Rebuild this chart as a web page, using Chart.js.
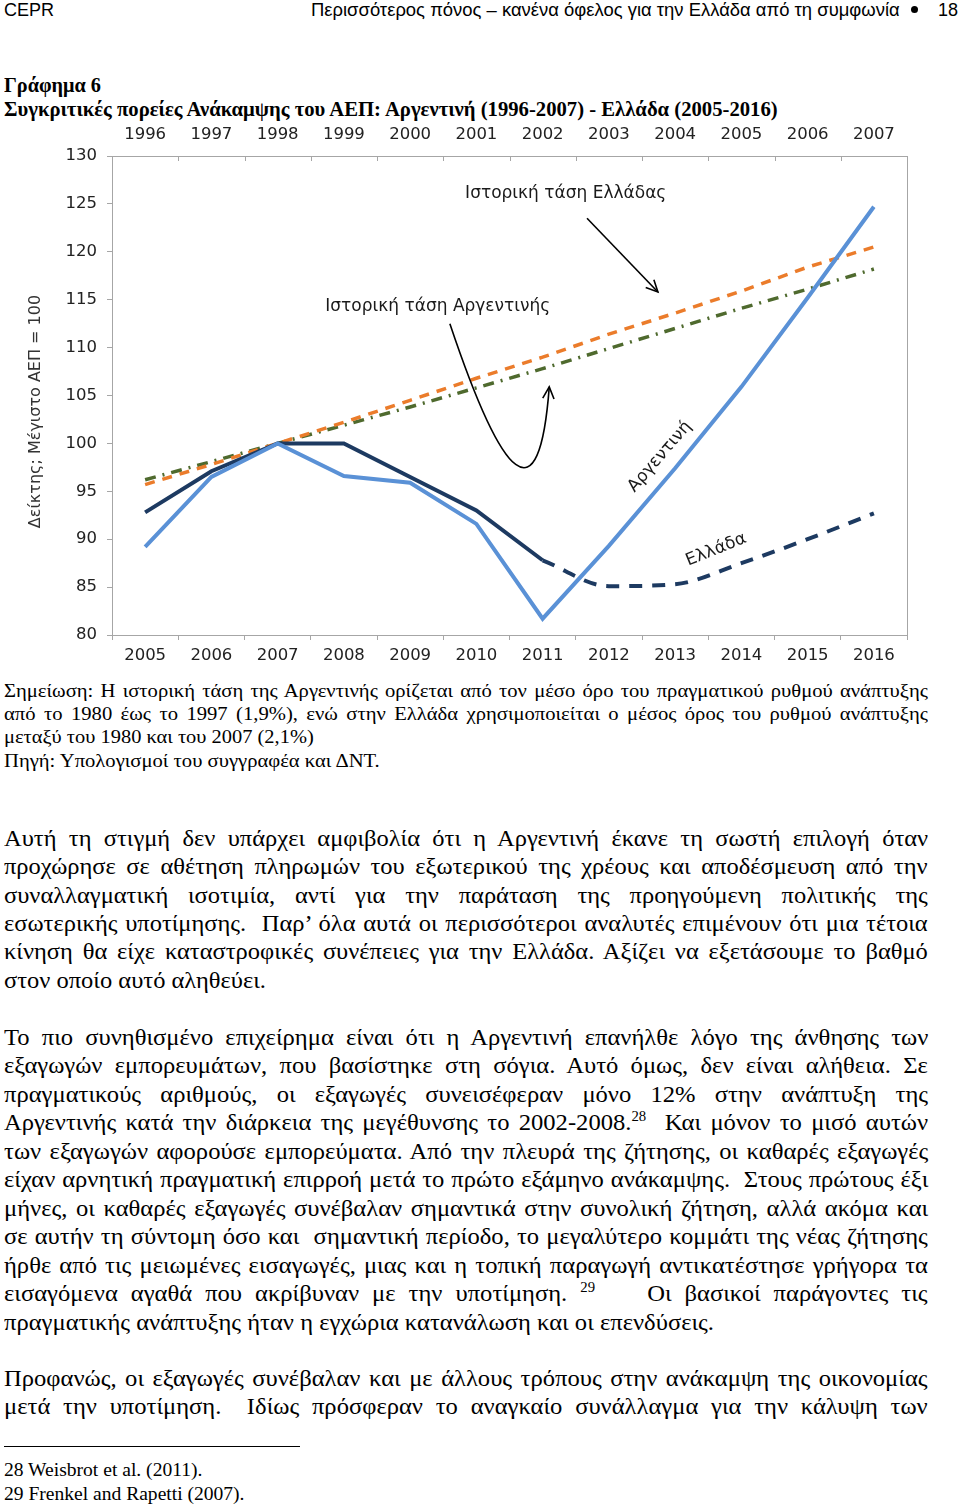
<!DOCTYPE html>
<html lang="el">
<head>
<meta charset="utf-8">
<title>Γράφημα 6</title>
<script src="https://cdn.jsdelivr.net/npm/chart.js@4.4.1/dist/chart.umd.min.js"></script>
<style>
  html, body { margin: 0; padding: 0; background: #fff; }
  body { width: 960px; height: 1509px; position: relative; overflow: hidden; color: #000; }
  .ln { position: absolute; left: 4px; white-space: pre; display: inline-block; transform-origin: 0 0; }
  .hdr { font-family: 'Liberation Sans Narrow', 'Liberation Sans', Arial, sans-serif; font-size: 18px; line-height: 20px; }
  .ttl { font-family: 'Liberation Serif', 'Times New Roman', serif; font-weight: bold; font-size: 20px; line-height: 24px; }
  .note .ln, .fn .ln { font-family: 'Liberation Serif', 'Times New Roman', serif; font-size: 18px; line-height: 23px; }
  .txt .ln { font-family: 'Liberation Serif', 'Times New Roman', serif; font-size: 23px; line-height: 28px; }
  sup { font-size: 0.6em; line-height: 0; vertical-align: 0.62em; }
  #bullet { position: absolute; left: 911px; top: 6px; width: 7px; height: 7px; border-radius: 50%; background: #000; }
  #rule { position: absolute; left: 4px; top: 1446px; width: 296px; height: 1px; background: #000; }
  #chartBox { position: absolute; left: 0; top: 118px; width: 960px; height: 550px; }
</style>
</head>
<body>

<div class="blk hdr">
  <span class="ln" style="top:0px" data-w="50">CEPR</span>
  <span class="ln" style="left:311px;top:0px" data-w="589">Περισσότερος πόνος – κανένα όφελος για την Ελλάδα από τη συμφωνία</span>
  <span class="ln" style="left:938px;top:0px" data-w="20">18</span>
</div>
<div id="bullet"></div>

<div class="blk ttl">
  <span class="ln" style="top:73px" data-w="97">Γράφημα 6</span>
  <span class="ln" style="top:97px" data-w="774">Συγκριτικές πορείες Ανάκαμψης του ΑΕΠ: Αργεντινή (1996-2007) - Ελλάδα (2005-2016)</span>
</div>

<div id="chartBox"><canvas id="recoveryChart"></canvas></div>

<div class="blk note">
  <span class="ln j" style="top:680px">Σημείωση: Η ιστορική τάση της Αργεντινής ορίζεται από τον μέσο όρο του πραγματικού ρυθμού ανάπτυξης</span>
  <span class="ln j" style="top:703px">από το 1980 έως το 1997 (1,9%), ενώ στην Ελλάδα χρησιμοποιείται ο μέσος όρος του ρυθμού ανάπτυξης</span>
  <span class="ln" style="top:726px" data-w="310">μεταξύ του 1980 και του 2007 (2,1%)</span>
  <span class="ln" style="top:750px" data-w="376">Πηγή: Υπολογισμοί του συγγραφέα και ΔΝΤ.</span>
</div>

<div class="blk txt">
  <span class="ln j" style="top:825px">Αυτή τη στιγμή δεν υπάρχει αμφιβολία ότι η Αργεντινή έκανε τη σωστή επιλογή όταν</span>
  <span class="ln j" style="top:853px">προχώρησε σε αθέτηση πληρωμών του εξωτερικού της χρέους και αποδέσμευση από την</span>
  <span class="ln j" style="top:882px">συναλλαγματική ισοτιμία, αντί για την παράταση της προηγούμενη πολιτικής της</span>
  <span class="ln j" style="top:910px">εσωτερικής υποτίμησης.  Παρ’ όλα αυτά οι περισσότεροι αναλυτές επιμένουν ότι μια τέτοια</span>
  <span class="ln j" style="top:938px">κίνηση θα είχε καταστροφικές συνέπειες για την Ελλάδα. Αξίζει να εξετάσουμε το βαθμό</span>
  <span class="ln" style="top:967px" data-w="262">στον οποίο αυτό αληθεύει.</span>
</div>

<div class="blk txt">
  <span class="ln j" style="top:1024px">Το πιο συνηθισμένο επιχείρημα είναι ότι η Αργεντινή επανήλθε λόγο της άνθησης των</span>
  <span class="ln j" style="top:1052px">εξαγωγών εμπορευμάτων, που βασίστηκε στη σόγια. Αυτό όμως, δεν είναι αλήθεια. Σε</span>
  <span class="ln j" style="top:1081px">πραγματικούς αριθμούς, οι εξαγωγές συνεισέφεραν μόνο 12% στην ανάπτυξη της</span>
  <span class="ln j" style="top:1109px">Αργεντινής κατά την διάρκεια της μεγέθυνσης το 2002-2008.<sup>28</sup>  Και μόνον το μισό αυτών</span>
  <span class="ln j" style="top:1138px">των εξαγωγών αφορούσε εμπορεύματα. Από την πλευρά της ζήτησης, οι καθαρές εξαγωγές</span>
  <span class="ln j" style="top:1166px">είχαν αρνητική πραγματική επιρροή μετά το πρώτο εξάμηνο ανάκαμψης.  Στους πρώτους έξι</span>
  <span class="ln j" style="top:1195px">μήνες, οι καθαρές εξαγωγές συνέβαλαν σημαντικά στην συνολική ζήτηση, αλλά ακόμα και</span>
  <span class="ln j" style="top:1223px">σε αυτήν τη σύντομη όσο και  σημαντική περίοδο, το μεγαλύτερο κομμάτι της νέας ζήτησης</span>
  <span class="ln j" style="top:1252px">ήρθε από τις μειωμένες εισαγωγές, μιας και η τοπική παραγωγή αντικατέστησε γρήγορα τα</span>
  <span class="ln j" style="top:1280px">εισαγόμενα αγαθά που ακρίβυναν με την υποτίμηση. <sup>29</sup>    Οι βασικοί παράγοντες τις</span>
  <span class="ln" style="top:1309px" data-w="710">πραγματικής ανάπτυξης ήταν η εγχώρια κατανάλωση και οι επενδύσεις.</span>
</div>

<div class="blk txt">
  <span class="ln j" style="top:1365px">Προφανώς, οι εξαγωγές συνέβαλαν και με άλλους τρόπους στην ανάκαμψη της οικονομίας</span>
  <span class="ln j" style="top:1393px">μετά την υποτίμηση.  Ιδίως πρόσφεραν το αναγκαίο συνάλλαγμα για την κάλυψη των</span>
</div>

<div id="rule"></div>
<div class="blk fn">
  <span class="ln" style="top:1459px" data-w="199">28 Weisbrot et al. (2011).</span>
  <span class="ln" style="top:1483px" data-w="240">29 Frenkel and Rapetti (2007).</span>
</div>

<script>
// Άξονες: κάτω έτη Ελλάδας, πάνω έτη Αργεντινής
const greeceYears = ['2005', '2006', '2007', '2008', '2009', '2010', '2011', '2012', '2013', '2014', '2015', '2016'];
const argentinaYears = ['1996', '1997', '1998', '1999', '2000', '2001', '2002', '2003', '2004', '2005', '2006', '2007'];

// Δείκτης ΑΕΠ (μέγιστο = 100)
const argentinaGdp = [89.2, 96.5, 100, 96.6, 95.9, 91.6, 81.7, 89.3, 97.4, 105.9, 115.2, 124.7];
const greeceGdp = [92.8, 97.1, 100, 100, 96.5, 93.0, 87.8, null, null, null, null, null];
const greeceForecast = [null, null, null, null, null, null, 87.8, 85.1, 85.3, 87.5, 90.0, 92.7];
const greeceTrend = [95.7, 97.8, 100, 102.2, 104.5, 106.8, 109.0, 111.4, 113.6, 115.9, 118.4, 120.5];
const argentinaTrend = [96.2, 98.1, 100, 101.9, 103.8, 105.8, 107.8, 109.9, 112.0, 114.1, 116.1, 118.2];

// Σχόλια μέσα στο γράφημα (θέση σε μονάδες αξόνων: δείκτης κατηγορίας, τιμή)
const chartNotes = [
    { text: 'Ιστορική τάση Ελλάδας', at: [4.83, 126.1], align: 'left', angle: 0 },
    { text: 'Ιστορική τάση Αργεντινής', at: [2.72, 114.3], align: 'left', angle: 0 },
    { text: 'Αργεντινή', at: [7.77, 98.6], align: 'center', angle: -49 },
    { text: 'Ελλάδα', at: [8.62, 88.9], align: 'center', angle: -22 }
];
const greeceArrow = [[6.67, 123.5], [7.74, 115.8]];
const argentinaArrow = [[4.60, 112.5], [5.40, 96.0], [5.95, 92.0], [6.10, 105.9]];

const chartFont = "'DejaVu Sans', Verdana, sans-serif";
const axisColor = '#a6a6a6';

function drawHead(ctx, from, to) {
    const ang = Math.atan2(to.y - from.y, to.x - from.x);
    const len = 13, spread = 0.45;
    ctx.beginPath();
    ctx.moveTo(to.x - len * Math.cos(ang - spread), to.y - len * Math.sin(ang - spread));
    ctx.lineTo(to.x, to.y);
    ctx.lineTo(to.x - len * Math.cos(ang + spread), to.y - len * Math.sin(ang + spread));
    ctx.stroke();
}

const notesPlugin = {
    id: 'notes',
    afterDraw(chart) {
        const ctx = chart.ctx;
        const xs = chart.scales.x, ys = chart.scales.y, top = chart.scales.x2;
        const pt = p => ({ x: xs.getPixelForValue(p[0]), y: ys.getPixelForValue(p[1]) });
        ctx.save();

        // μικρές εσωτερικές γραμμές στον πάνω άξονα (όρια κατηγοριών)
        ctx.strokeStyle = axisColor;
        ctx.lineWidth = 1;
        for (let i = 0; i <= argentinaYears.length; i++) {
            const x = Math.round(top.getPixelForValue(i - 0.5)) + 0.5;
            ctx.beginPath();
            ctx.moveTo(x, top.bottom);
            ctx.lineTo(x, top.bottom + 5);
            ctx.stroke();
        }

        ctx.fillStyle = '#1a1a1a';
        ctx.font = '17px ' + chartFont;
        ctx.textBaseline = 'middle';
        chartNotes.forEach(n => {
            const p = pt(n.at);
            ctx.save();
            ctx.translate(p.x, p.y);
            ctx.rotate(n.angle * Math.PI / 180);
            ctx.textAlign = n.align;
            ctx.fillText(n.text, 0, 0);
            ctx.restore();
        });

        ctx.strokeStyle = '#000';
        ctx.lineWidth = 1.6;
        const a = pt(greeceArrow[0]), b = pt(greeceArrow[1]);
        ctx.beginPath();
        ctx.moveTo(a.x, a.y);
        ctx.lineTo(b.x, b.y);
        ctx.stroke();
        drawHead(ctx, a, b);

        const c = argentinaArrow.map(pt);
        ctx.beginPath();
        ctx.moveTo(c[0].x, c[0].y);
        ctx.bezierCurveTo(c[1].x, c[1].y, c[2].x, c[2].y, c[3].x, c[3].y);
        ctx.stroke();
        drawHead(ctx, c[2], c[3]);

        // τίτλος κάθετου άξονα
        const area = chart.chartArea;
        ctx.save();
        ctx.translate(area.left - 76, (area.top + area.bottom) / 2 + 16);
        ctx.rotate(-Math.PI / 2);
        ctx.textAlign = 'center';
        ctx.fillStyle = '#333';
        ctx.font = '16px ' + chartFont;
        ctx.fillText('Δείκτης; Μέγιστο ΑΕΠ = 100', 0, 0);
        ctx.restore();
        ctx.restore();
    }
};

const tickFont = { family: chartFont, size: 16.5 };

new Chart(document.getElementById('recoveryChart').getContext('2d'), {
    type: 'line',
    data: {
        labels: greeceYears,
        datasets: [
            { label: 'Αργεντινή', data: argentinaGdp, borderColor: '#5a91d6', borderWidth: 4, tension: 0 },
            { label: 'Ελλάδα', data: greeceGdp, borderColor: '#1d3a61', borderWidth: 4, tension: 0 },
            { label: 'Ελλάδα (πρόβλεψη)', data: greeceForecast, borderColor: '#1d3a61', borderWidth: 4,
              borderDash: [13, 10], tension: 0.4, cubicInterpolationMode: 'monotone' },
            { label: 'Ιστορική τάση Ελλάδας', data: greeceTrend, borderColor: '#eb7c2b', borderWidth: 3.5,
              borderDash: [10, 8] },
            { label: 'Ιστορική τάση Αργεντινής', data: argentinaTrend, borderColor: '#4f6a2e', borderWidth: 3.5,
              borderDash: [11, 7, 2, 7] }
        ]
    },
    options: {
        responsive: true,
        maintainAspectRatio: false,
        animation: false,
        spanGaps: false,
        elements: { point: { radius: 0 }, line: { borderCapStyle: 'butt' } },
        layout: { padding: { left: 0, right: 53, top: 0, bottom: 0 } },
        plugins: { legend: { display: false }, tooltip: { enabled: false } },
        scales: {
            x: {
                type: 'category',
                position: 'bottom',
                offset: true,
                grid: { offset: true, drawOnChartArea: false, tickLength: 5, color: axisColor },
                border: { color: axisColor },
                ticks: { font: tickFont, color: '#222', padding: 6, maxRotation: 0, autoSkip: false },
                afterFit: s => { s.height = 33; }
            },
            x2: {
                type: 'category',
                labels: argentinaYears,
                position: 'top',
                offset: true,
                grid: { offset: true, drawOnChartArea: false, drawTicks: false, tickLength: 5, color: axisColor },
                border: { color: axisColor },
                ticks: { font: tickFont, color: '#222', padding: 11, maxRotation: 0, autoSkip: false },
                afterFit: s => { s.height = 38; }
            },
            y: {
                min: 80,
                max: 130,
                ticks: { stepSize: 5, font: tickFont, color: '#222', padding: 10 },
                grid: { drawOnChartArea: false, tickLength: 5, color: axisColor },
                border: { color: axisColor },
                afterFit: s => { s.width = 112; }
            },
            y2: {
                position: 'right',
                ticks: { display: false },
                grid: { drawOnChartArea: false, tickLength: 0, color: axisColor },
                border: { color: axisColor },
                afterFit: s => { s.width = 0; }
            }
        }
    },
    plugins: [notesPlugin]
});

// Στοίχιση γραμμών κειμένου όπως στο πρωτότυπο
function fitLines() {
    const FULL = 924;
    let lastK = 1;
    document.querySelectorAll('.blk').forEach(blk => {
        const lines = [...blk.querySelectorAll('.ln')];
        const ref = lines.filter(l => l.dataset.w && !l.classList.contains('j'));
        let k = lastK;
        if (ref.length) {
            const r = ref[ref.length - 1];
            k = +r.dataset.w / r.offsetWidth;
        }
        lines.forEach(l => {
            const w = l.offsetWidth;
            if (l.classList.contains('j')) {
                const spaces = (l.textContent.match(/ /g) || []).length;
                let ws = (FULL / k - w) / spaces;
                let scale = k;
                if (ws < -1.5) { ws = 0; scale = FULL / w; }
                l.style.wordSpacing = ws + 'px';
                l.style.transform = 'scaleX(' + scale + ')';
            } else if (l.dataset.w) {
                l.style.transform = 'scaleX(' + (+l.dataset.w / w) + ')';
            }
        });
        if (blk.classList.contains('txt')) lastK = k;
    });
}
fitLines();
</script>
</body>
</html>
